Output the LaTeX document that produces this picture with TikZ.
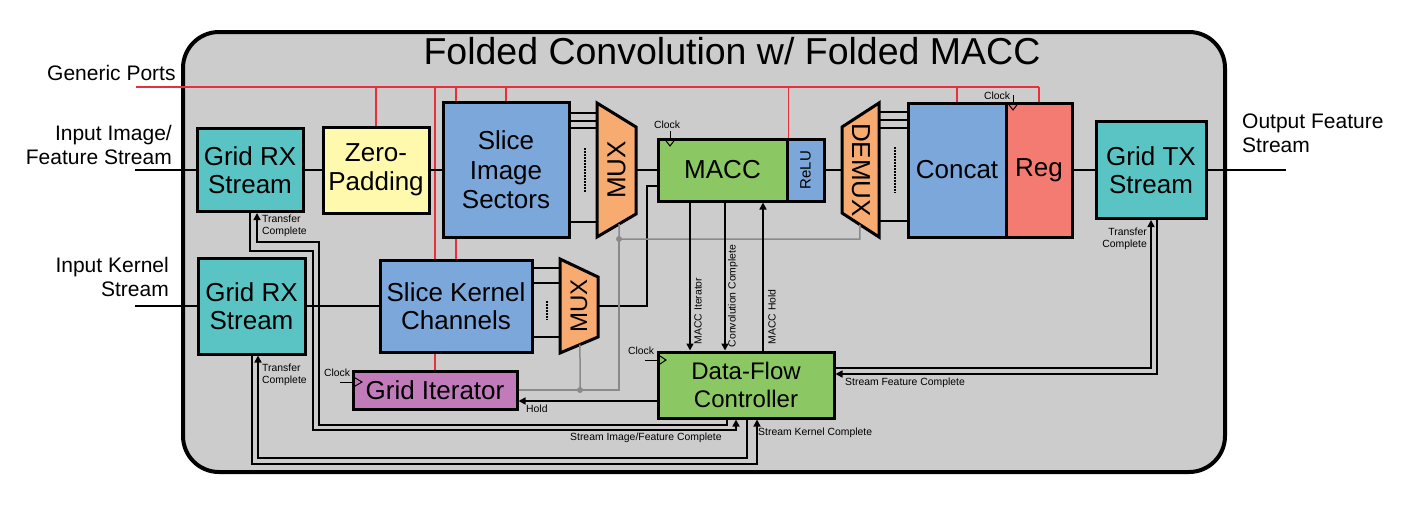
\documentclass[tikz,border=0pt]{standalone}
\usepackage{fontspec}
\setmainfont{Liberation Sans}
\usetikzlibrary{arrows.meta,calc,backgrounds}
\definecolor{bg}{HTML}{CCCCCC}
\definecolor{tealc}{HTML}{5AC4C4}
\definecolor{yel}{HTML}{FFF9AE}
\definecolor{blu}{HTML}{7BA7DA}
\definecolor{ora}{HTML}{F8AB70}
\definecolor{grn}{HTML}{8BC763}
\definecolor{sal}{HTML}{F47B71}
\definecolor{pur}{HTML}{C27BBA}
\definecolor{redl}{HTML}{E8303A}
\definecolor{gry}{HTML}{8A8A8A}
\begin{document}
\begin{tikzpicture}[x=1pt,y=-1pt,
  box/.style={draw=black,line width=3pt,inner sep=0pt,align=center,font=\fontsize{26}{28.5}\selectfont},
  muxshape/.style={draw=black,line width=3pt,fill=ora,line join=miter},
  data/.style={line width=2.5pt},
  ctl/.style={line width=1.5pt},
  arr/.style={-{Triangle[length=7pt,width=7pt]}},
  redw/.style={draw=redl,line width=1.4pt},
  gw/.style={draw=gry,line width=1.5pt},
  small/.style={font=\fontsize{10.4}{12}\selectfont,inner sep=0pt},
  mid/.style={font=\fontsize{21}{24}\selectfont,inner sep=0pt},
  dots/.style={line width=2pt,dash pattern=on 1.5pt off 1.5pt},
  clk/.style={draw=black,line width=1pt},
]
\useasboundingbox (0,0) rectangle (1402,506);

% boxes
\node[box,fill=tealc,minimum width=106pt,minimum height=83pt] (rx1) at (250,170) {Grid RX\\Stream};
\node[box,fill=yel,minimum width=106pt,minimum height=86pt] (zp) at (376,170) {Zero-\\Padding};
\node[box,fill=blu,minimum width=126pt,minimum height=135pt,font=\fontsize{26}{29.5}\selectfont] (sis) at (506,170) {Slice\\Image\\Sectors};
\node[box,fill=grn,minimum width=129pt,minimum height=62pt] (macc) at (722.5,170) {MACC};
\node[box,fill=blu,minimum width=37pt,minimum height=62pt] (relu) at (805.5,170) {};
\node[rotate=90,font=\fontsize{15}{16}\selectfont,inner sep=0pt] (relut) at (805.5,170) {ReLU};
\node[box,fill=blu,minimum width=98pt,minimum height=134pt] (concat) at (957,170) {Concat};
\node[box,fill=sal,minimum width=66pt,minimum height=134pt] (reg) at (1039,170) {Reg};
\node[box,fill=tealc,minimum width=110pt,minimum height=97pt] (tx) at (1151,170) {Grid TX\\Stream};
\node[box,fill=tealc,minimum width=107pt,minimum height=96pt] (rx2) at (251.5,306) {Grid RX\\Stream};
\node[box,fill=blu,minimum width=152pt,minimum height=92pt] (skc) at (456,306) {Slice Kernel\\Channels};
\node[box,fill=pur,minimum width=164pt,minimum height=38pt] (gi) at (435,390) {Grid Iterator};
\node[box,fill=grn,minimum width=176pt,minimum height=66pt,font=\fontsize{24}{28}\selectfont] (dfc) at (746,385) {Data-Flow\\Controller};

% title
\node[font=\fontsize{37.5}{40}\selectfont,anchor=base,inner sep=0pt] (title) at (732,64) {Folded Convolution w/ Folded MACC};

% multiplexers
\coordinate (m1a) at (597,103); \coordinate (m1b) at (636,127);
\coordinate (m1c) at (636,214); \coordinate (m1d) at (597,237);
\draw[muxshape] (m1a) -- (m1b) -- (m1c) -- (m1d) -- cycle;
\node[rotate=90,font=\fontsize{26}{28}\selectfont,inner sep=0pt] (mux1) at (616.5,170) {MUX};

\coordinate (d1a) at (879,103); \coordinate (d1b) at (842,127);
\coordinate (d1c) at (842,213); \coordinate (d1d) at (879,237);
\draw[muxshape] (d1a) -- (d1b) -- (d1c) -- (d1d) -- cycle;
\node[rotate=-90,font=\fontsize{26}{28}\selectfont,inner sep=0pt] (demux) at (861,170) {DEMUX};

\coordinate (m2a) at (560,259); \coordinate (m2b) at (598,277);
\coordinate (m2c) at (598,337); \coordinate (m2d) at (560,353);
\draw[muxshape] (m2a) -- (m2b) -- (m2c) -- (m2d) -- cycle;
\node[rotate=90,font=\fontsize{24}{26}\selectfont,inner sep=0pt] (mux2) at (579,306) {MUX};

% background: white page, frame and generic ports
\begin{scope}[on background layer]
  \fill[white] (0,0) rectangle (1402,506);
  \draw[line width=4pt,fill=bg,rounded corners=36pt] (183,32) rectangle (1225,472);
  \coordinate (gp) at (136,87);
  \draw[redw] (gp) -- (gp -| reg.north);
  \draw[redw] (zp.north |- gp) -- (zp.north);
  \draw[redw] (gi.north |- gp) -- (gi.north);
  \draw[redw] (skc.north |- gp) -- (skc.north);
  \draw[redw] (sis.north |- gp) -- (sis.north);
  \draw[redw] (macc.north east |- gp) -- (macc.north east);
  \draw[redw] (concat.north |- gp) -- (concat.north);
  \draw[redw] (reg.north |- gp) -- (reg.north);
\end{scope}

% data path
\coordinate (inimg) at (135,170);
\coordinate (inker) at (135,306);
\coordinate (outp) at (1286,170);
\draw[data] (inimg) -- (rx1.west);
\draw[data] (rx1.east) -- (zp.west);
\draw[data] (zp.east) -- (sis.west);
\foreach \yy in {113,121,128,222} \draw[data] (sis.east |- 0,\yy) -- (m1a |- 0,\yy);
\draw[dots] (585,148) -- (585,193);
\draw[data] (m1b |- mux1) -- (macc.west);
\draw[data] (relu.east) -- (d1b |- relu.east);
\foreach \yy in {112,120,128,221} \draw[data] (d1a |- 0,\yy) -- (concat.west |- 0,\yy);
\draw[dots] (895,147) -- (895,193);
\draw[data] (reg.east) -- (tx.west);
\draw[line width=1.6pt] (tx.east) -- (outp);
\draw[data] (inker) -- (rx2.west);
\draw[data] (rx2.east) -- (skc.west);
\foreach \yy in {268,283,337} \draw[data] (skc.east |- 0,\yy) -- (m2a |- 0,\yy);
\draw[dots] (547,301) -- (547,320);
\draw[data] (m2b |- mux2) -| (647,186) -- (macc.west |- 0,186);

% grey hold lines
\coordinate (g1) at (619,239);
\coordinate (g2) at (580,390);
\draw[gw] ($(m1d)!0.564!(m1c)$) -- (g1) -| ($(d1c)!0.486!(d1d)$);
\draw[gw] (g1) -- (619,390) -- (gi.east |- 0,390);
\draw[gw] (g2) -- ($(m2d)!0.526!(m2c)$);
\fill[gry] (g1) circle (3);
\fill[gry] (g2) circle (3);

% MACC control
\draw[ctl,arr] (macc.south -| 690,0) -- (dfc.north -| 690,0);
\draw[line width=2pt,arr] (macc.south -| 725,0) -- (dfc.north -| 725,0);
\draw[ctl,arr] (dfc.north -| 763,0) -- (macc.south -| 763,0);
\node[small,rotate=90] (lmi) at (698,311) {MACC Iterator};
\node[small,rotate=90] (lcc) at (733,296) {Convolution Complete};
\node[small,rotate=90] (lmh) at (772,317) {MACC Hold};

% hold
\draw[ctl,arr] (dfc.west |- 0,401) -- (gi.east |- 0,401);
\node[small,anchor=west] (lhold) at (526,409) {Hold};

% stream feature
\draw[ctl,arr] (dfc.east |- 0,368) -| (tx.south -| 1151,0);
\draw[ctl,arr] (tx.south -| 1157,0) |- (dfc.east |- 0,374);
\node[small,anchor=west] (lsfc) at (845,383) {Stream Feature Complete};
\node[small,align=right,anchor=east] (ltc3) at (1147,239) {Transfer\\Complete};

% RX feedback
\draw[ctl,arr] (dfc.south -| 727,0) -- (727,425) -- (319,425) -- (319,242) -- (257,242) -- (rx1.south -| 257,0);
\draw[ctl,arr] (rx1.south -| 250,0) -- (250,251) -- (313,251) -- (313,430) -- (736,430) -- (dfc.south -| 736,0);
\draw[ctl,arr] (dfc.south -| 747,0) -- (747,458) -- (258,458) -- (rx2.south -| 258,0);
\draw[ctl,arr] (rx2.south -| 252,0) -- (252,464) -- (757,464) -- (dfc.south -| 757,0);
\node[small,align=left,anchor=west] (ltc1) at (262,226) {Transfer\\Complete};
\node[small,align=left,anchor=west] (ltc2) at (262,375) {Transfer\\Complete};
\node[small,anchor=west] (lsif) at (570,438) {Stream Image/Feature Complete};
\node[small,anchor=west] (lskc) at (758,433) {Stream Kernel Complete};

% clocks
\draw[clk] (665,139.5) -- (670,146) -- (675,139.5);
\draw[clk] (670,131) -- (670,139.5);
\node[small] (clk1) at (667,125) {Clock};
\draw[clk] (1008,103.5) -- (1013,110) -- (1018,103.5);
\draw[clk] (1013,95) -- (1013,103.5);
\node[small] (clk2) at (997,96) {Clock};
\draw[clk] (658.5,355) -- (666,360) -- (658.5,365);
\draw[clk] (645,360) -- (658.5,360);
\node[small] (clk3) at (641,351) {Clock};
\draw[clk] (353.5,377) -- (362,382) -- (353.5,387);
\draw[clk] (340,382) -- (353.5,382);
\node[small] (clk4) at (337,373) {Clock};

% outside labels
\node[mid,anchor=west] (lgp) at (47,73) {Generic Ports};
\node[mid,align=right,anchor=east] (lin1) at (172,145) {Input Image/\\Feature Stream};
\node[mid,align=right,anchor=east] (lin2) at (169,277) {Input Kernel\\Stream};
\node[mid,align=left,anchor=west] (lout) at (1242,133) {Output Feature\\Stream};
\end{tikzpicture}
\end{document}
